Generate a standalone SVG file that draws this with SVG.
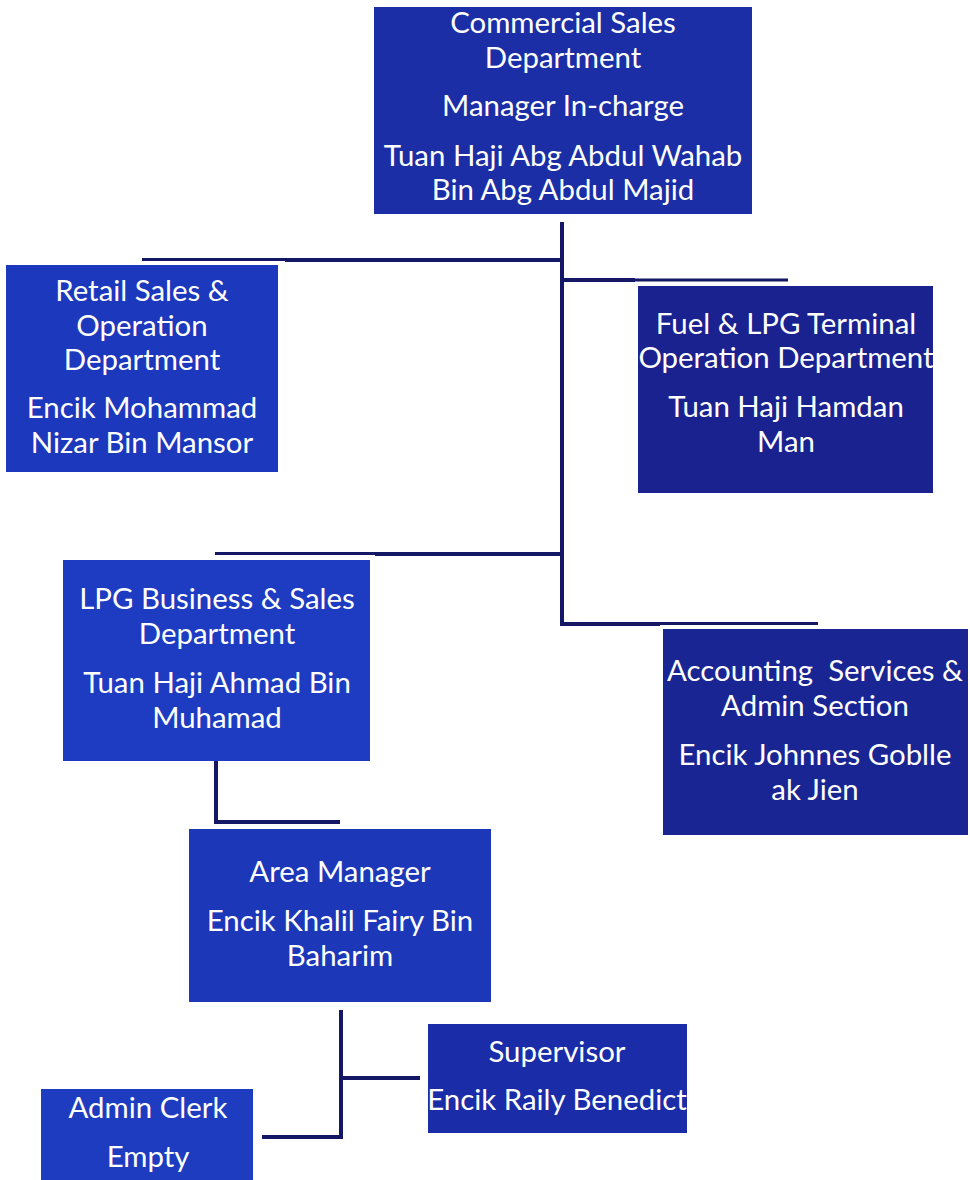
<svg xmlns="http://www.w3.org/2000/svg" width="970" height="1180" viewBox="0 0 970 1180">
<style>
.box{stroke:none}
.t{font-family:Lato,"Open Sans","Liberation Sans",sans-serif;font-size:29.4px;fill:#ffffff;text-anchor:middle}
.c{stroke:#131766;fill:none;stroke-width:4;stroke-linecap:butt}
.ct{stroke:#131766;fill:none;stroke-width:3}
</style>
<rect width="970" height="1180" fill="#ffffff"/>
<g id="connectors">
<line class="c" x1="562" y1="222" x2="562" y2="626"/>
<line class="c" x1="285" y1="260" x2="564" y2="260"/>
<line class="ct" x1="142" y1="259.5" x2="285" y2="259.5"/>
<line class="c" x1="560" y1="280" x2="635" y2="280"/>
<line class="ct" x1="635" y1="280" x2="788" y2="280"/>
<line class="c" x1="375" y1="554" x2="564" y2="554"/>
<line class="ct" x1="215" y1="553.5" x2="375" y2="553.5"/>
<line class="c" x1="560" y1="624" x2="660" y2="624"/>
<line class="ct" x1="660" y1="623.5" x2="818" y2="623.5"/>
<polyline class="c" points="216,740 216,822 340,822"/>
<line class="c" x1="341" y1="1010" x2="341" y2="1139"/>
<line class="c" x1="339" y1="1078" x2="420" y2="1078"/>
<line class="c" x1="262" y1="1137" x2="343" y2="1137"/>
</g>
<g id="commercial">
<rect class="box" x="374" y="7" width="378" height="207" fill="#1b2ea6"/>
<text class="t" x="563" y="33">Commercial Sales</text>
<text class="t" x="563" y="68">Department</text>
<text class="t" x="563" y="116">Manager In-charge</text>
<text class="t" x="563" y="166">Tuan Haji Abg Abdul Wahab</text>
<text class="t" x="563" y="200">Bin Abg Abdul Majid</text>
</g>
<g id="retail">
<rect class="box" x="6" y="265" width="272" height="207" fill="#1c38bd"/>
<text class="t" x="142" y="301">Retail Sales &amp;</text>
<text class="t" x="142" y="336">Operation</text>
<text class="t" x="142" y="370">Department</text>
<text class="t" x="142" y="418">Encik Mohammad</text>
<text class="t" x="142" y="453">Nizar Bin Mansor</text>
</g>
<g id="fuel">
<rect class="box" x="638" y="286" width="295" height="207" fill="#1a2290"/>
<text class="t" x="786" y="334">Fuel &amp; LPG Terminal</text>
<text class="t" x="786" y="368">Operation Department</text>
<text class="t" x="786" y="417">Tuan Haji Hamdan</text>
<text class="t" x="786" y="452">Man</text>
</g>
<g id="lpg">
<rect class="box" x="63" y="560" width="307" height="201" fill="#1d3cc2"/>
<text class="t" x="217" y="609">LPG Business &amp; Sales</text>
<text class="t" x="217" y="644">Department</text>
<text class="t" x="217" y="693">Tuan Haji Ahmad Bin</text>
<text class="t" x="217" y="728">Muhamad</text>
</g>
<g id="accounting">
<rect class="box" x="663" y="629" width="305" height="206" fill="#1a2594"/>
<text class="t" x="815" y="681" xml:space="preserve">Accounting  Services &amp;</text>
<text class="t" x="815" y="716">Admin Section</text>
<text class="t" x="815" y="765">Encik Johnnes Goblle</text>
<text class="t" x="815" y="800">ak Jien</text>
</g>
<g id="area">
<rect class="box" x="189" y="829" width="302" height="173" fill="#1c37b8"/>
<text class="t" x="340" y="882">Area Manager</text>
<text class="t" x="340" y="931">Encik Khalil Fairy Bin</text>
<text class="t" x="340" y="966">Baharim</text>
</g>
<g id="supervisor">
<rect class="box" x="428" y="1024" width="259" height="109" fill="#1b2ca8"/>
<text class="t" x="557" y="1062">Supervisor</text>
<text class="t" x="557" y="1110">Encik Raily Benedict</text>
</g>
<g id="adminclerk">
<rect class="box" x="41" y="1089" width="212" height="95" fill="#1e3cc0"/>
<text class="t" x="148" y="1118">Admin Clerk</text>
<text class="t" x="148" y="1167">Empty</text>
</g>
</svg>
